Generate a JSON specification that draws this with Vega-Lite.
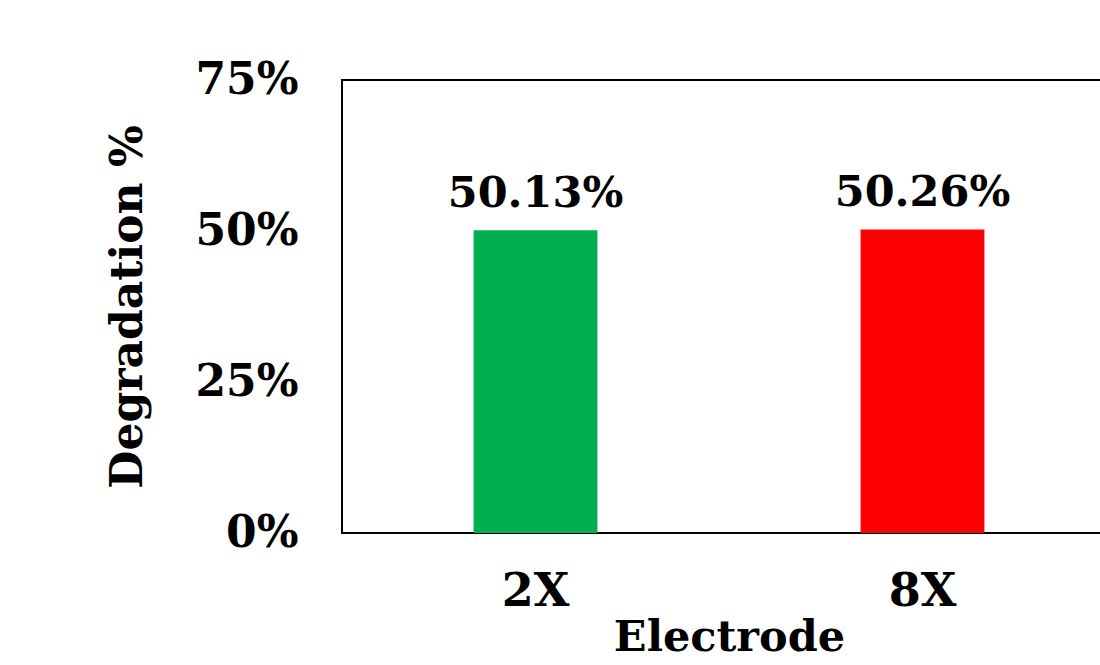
{
  "$schema": "https://vega.github.io/schema/vega-lite/v6.json",
  "autosize": "none",
  "width": 774,
  "height": 453,
  "padding": {"left": 342, "top": 80, "right": 0, "bottom": 132},
  "background": "white",
  "config": {
    "view": {"stroke": "black", "strokeWidth": 2},
    "font": "DejaVu Serif"
  },
  "data": {
    "values": [
      {"electrode": "2X", "degradation": 0.5013, "color": "#00B050"},
      {"electrode": "8X", "degradation": 0.5026, "color": "#FF0000"}
    ]
  },
  "encoding": {
    "x": {
      "field": "electrode",
      "type": "nominal",
      "scale": {"paddingInner": 0.68, "paddingOuter": 0.34},
      "axis": {
        "title": "Electrode",
        "labelAngle": 0,
        "labelFont": "DejaVu Serif",
        "labelFontWeight": "bold",
        "labelFontSize": 46,
        "labelColor": "black",
        "labelPadding": 36,
        "ticks": false,
        "domain": false,
        "titleFont": "DejaVu Serif",
        "titleFontWeight": "bold",
        "titleFontSize": 43,
        "titleColor": "black",
        "titlePadding": 2
      }
    },
    "y": {
      "field": "degradation",
      "type": "quantitative",
      "scale": {"domain": [0, 0.75], "nice": false},
      "axis": {
        "title": "Degradation %",
        "values": [0, 0.25, 0.5, 0.75],
        "format": ".0%",
        "grid": false,
        "ticks": false,
        "domain": false,
        "labelFont": "DejaVu Serif",
        "labelFontWeight": "bold",
        "labelFontSize": 44,
        "labelColor": "black",
        "labelPadding": 44,
        "titleFont": "DejaVu Serif",
        "titleFontWeight": "bold",
        "titleFontSize": 44,
        "titleColor": "black",
        "titlePadding": 44
      }
    }
  },
  "layer": [
    {
      "mark": {"type": "bar"},
      "encoding": {
        "color": {"field": "color", "type": "nominal", "scale": null, "legend": null}
      }
    },
    {
      "mark": {"type": "text", "baseline": "bottom", "dy": -14, "fontSize": 43, "fontWeight": "bold", "font": "DejaVu Serif", "color": "black"},
      "encoding": {
        "text": {"field": "degradation", "type": "quantitative", "format": ".2%"}
      }
    }
  ]
}
